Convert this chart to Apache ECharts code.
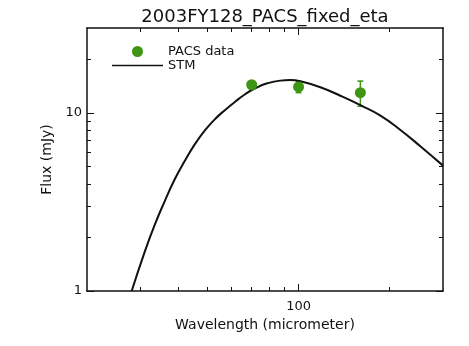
<!DOCTYPE html>
<html>
<head>
<meta charset="utf-8">
<script src="https://cdn.jsdelivr.net/npm/echarts@6/dist/echarts.min.js"></script>
<style>
html, body { margin: 0; padding: 0; background: #fff; }
#main { width: 469px; height: 346px; }
</style>
</head>
<body>
<div id="main"></div>
<script>
// STM model curve
var stmWave = [28.1, 31.1, 33.5, 36.2, 39.1, 42.2, 45.5, 49.1, 53.0, 57.2, 61.7, 66.6, 71.9, 78.8, 87.0, 93.9, 101.3, 118, 137.4, 160, 186.4, 217, 253, 300];
var stmFlux = [1.0, 1.68, 2.36, 3.22, 4.28, 5.42, 6.7, 8.0, 9.25, 10.4, 11.56, 12.74, 13.76, 14.67, 15.19, 15.29, 15.06, 13.94, 12.49, 11.06, 9.66, 8.02, 6.48, 5.06];

// PACS photometry
var pacsWave = [70, 100, 160];
var pacsFlux = [14.4, 14.0, 13.0];
var pacsErr = [0.4, 1.0, 2.1];

// ticks
var xMajor = [100];
var xMinor = [30, 40, 50, 60, 70, 80, 90, 200];
var yMajor = [1, 10];
var yMinor = [2, 3, 4, 5, 6, 7, 8, 9, 20];

var green = '#3c9614';
var ink = '#111';
var font = 'DejaVu Sans';

var myChart = echarts.init(document.getElementById('main'));

function xAxisOf(pos, ticks, len, main) {
    return {
        type: 'log', logBase: 10, min: 20, max: 300, position: pos,
        axisLine: { show: main, onZero: false, lineStyle: { color: ink, width: 1.5 } },
        axisTick: { show: true, inside: true, length: len, customValues: ticks, lineStyle: { color: ink, width: 1 } },
        axisLabel: { show: main && pos === 'bottom', customValues: xMajor, margin: 9, color: ink, fontSize: 13, fontFamily: font },
        splitLine: { show: false },
        name: main && pos === 'bottom' ? 'Wavelength (micrometer)' : '',
        nameLocation: 'middle', nameGap: 24,
        nameTextStyle: { color: ink, fontSize: 14, fontFamily: font }
    };
}

function yAxisOf(pos, ticks, len, main) {
    return {
        type: 'log', logBase: 10, min: 1, max: 30, position: pos,
        axisLine: { show: main, onZero: false, lineStyle: { color: ink, width: 1.5 } },
        axisTick: { show: true, inside: true, length: len, customValues: ticks, lineStyle: { color: ink, width: 1 } },
        axisLabel: { show: main && pos === 'left', customValues: yMajor, margin: 5, color: ink, fontSize: 13, fontFamily: font },
        splitLine: { show: false },
        name: main && pos === 'left' ? 'Flux (mJy)' : '',
        nameLocation: 'middle', nameGap: 32, nameRotate: 90,
        nameTextStyle: { color: ink, fontSize: 14, fontFamily: font }
    };
}

var stmData = stmWave.map(function (w, i) { return [w, stmFlux[i]]; });
var pacsData = pacsWave.map(function (w, i) { return [w, pacsFlux[i]]; });
var errData = pacsWave.map(function (w, i) {
    return [w, pacsFlux[i] - pacsErr[i], pacsFlux[i] + pacsErr[i]];
});

var option = {
    animation: false,
    backgroundColor: '#fff',
    title: {
        text: '2003FY128_PACS_fixed_eta',
        left: 260, top: 3, textAlign: 'center',
        textStyle: { color: ink, fontSize: 18, fontWeight: 'normal', fontFamily: font }
    },
    legend: {
        data: [
            { name: 'PACS data', icon: 'circle' },
            { name: 'STM', icon: 'path://M0,0 L51,0 L51,1.6 L0,1.6 Z' }
        ],
        orient: 'vertical', left: 107, top: 40,
        itemWidth: 51, itemHeight: 11, itemGap: 1,
        textStyle: { color: ink, fontSize: 13, fontFamily: font, lineHeight: 13 }
    },
    grid: { left: 87, right: 26, top: 28, bottom: 55 },
    xAxis: [
        xAxisOf('bottom', xMajor, 7, true),
        xAxisOf('bottom', xMinor, 4, false),
        xAxisOf('top', xMajor, 7, true),
        xAxisOf('top', xMinor, 4, false)
    ],
    yAxis: [
        yAxisOf('left', yMajor, 7, true),
        yAxisOf('left', yMinor, 4, false),
        yAxisOf('right', yMajor, 7, true),
        yAxisOf('right', yMinor, 4, false)
    ],
    series: [
        {
            name: 'STM', type: 'line', data: stmData,
            symbol: 'none', smooth: 0.5, clip: true,
            lineStyle: { color: ink, width: 2 },
            itemStyle: { color: ink }
        },
        {
            name: 'err', type: 'custom', data: errData, z: 3,
            renderItem: function (params, api) {
                var top = api.coord([api.value(0), api.value(2)]);
                var bot = api.coord([api.value(0), api.value(1)]);
                var cap = 3;
                var style = { stroke: green, lineWidth: 1.5 };
                return {
                    type: 'group',
                    children: [
                        { type: 'line', shape: { x1: top[0], y1: top[1], x2: bot[0], y2: bot[1] }, style: style },
                        { type: 'line', shape: { x1: top[0] - cap, y1: top[1], x2: top[0] + cap, y2: top[1] }, style: style },
                        { type: 'line', shape: { x1: bot[0] - cap, y1: bot[1], x2: bot[0] + cap, y2: bot[1] }, style: style }
                    ]
                };
            }
        },
        {
            name: 'PACS data', type: 'scatter', data: pacsData, z: 4,
            symbol: 'circle', symbolSize: 11,
            itemStyle: { color: green, opacity: 1 }
        }
    ]
};

myChart.setOption(option);
</script>
</body>
</html>
